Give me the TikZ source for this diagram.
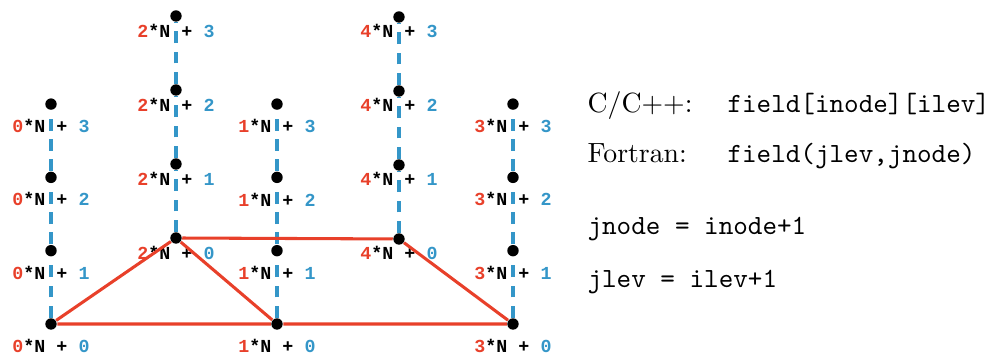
\documentclass[tikz,border=0pt]{standalone}
\usepackage{fontspec}
\newfontfamily\lblfont{Liberation Mono}
\definecolor{idxred}{RGB}{232,64,42}
\definecolor{levblue}{RGB}{52,150,200}
\tikzset{
  gridpt/.style={circle, fill=black, inner sep=0pt, minimum size=4.1pt},
  levline/.style={levblue, line width=1.1pt, dash pattern=on 4.3pt off 3pt},
  meshline/.style={idxred, line width=1.1pt},
  lbl/.style={font=\lblfont\bfseries\fontsize{6.6}{7}\selectfont, inner sep=0pt},
  txt/.style={anchor=base west, inner sep=0pt, font=\fontsize{10}{12}\selectfont}
}
\begin{document}
\begin{tikzpicture}[x=0.36pt, y=0.36pt]
    % 边界
    \useasboundingbox (0,0) rectangle (1000,354);
    
    % 各列：编号/横坐标/底部高度/层间距/标签偏移
    \foreach \c/\xc/\yb/\dy/\off in {0/51/30/73.3/22, 1/277/30/73.3/22, 3/513/30/73.3/22,
                                     2/176/116/74/15, 4/399/115/74/14} {
        \foreach \k in {0,...,3} {
            \pgfmathsetmacro\yk{\yb + \dy*\k}
            \node[gridpt] (p\c-\k) at (\xc, \yk) {};
            \node[lbl] (l\c-\k) at (\xc, \yk-\off)
                {\textcolor{idxred}{\c}*N + \textcolor{levblue}{\k}};
        }
    }
    
    % 竖直方向的层（虚线）
    \foreach \c in {0,...,4} {
        \draw[levline] (p\c-0) -- (p\c-1) -- (p\c-2) -- (p\c-3);
    }
    
    % 水平网格（红色三角形）
    \draw[meshline] (p0-0) -- (p1-0) -- (p3-0) -- (p4-0) -- (p2-0) -- (p0-0);
    \draw[meshline] (p2-0) -- (p1-0);
    
    % 右侧说明文字
    \node[txt] (cpp) at (587,241) {C/C++:};
    \node[txt] (cppcode) at (727,241) {\texttt{field[inode][ilev]}};
    \node[txt] (ftn) at (587,191) {Fortran:};
    \node[txt] (ftncode) at (727,191) {\texttt{field(jlev,jnode)}};
    \node[txt] (jnode) at (587,119) {\texttt{jnode = inode+1}};
    \node[txt] (jlev) at (587,66) {\texttt{jlev = ilev+1}};
    
\end{tikzpicture}
\end{document}
